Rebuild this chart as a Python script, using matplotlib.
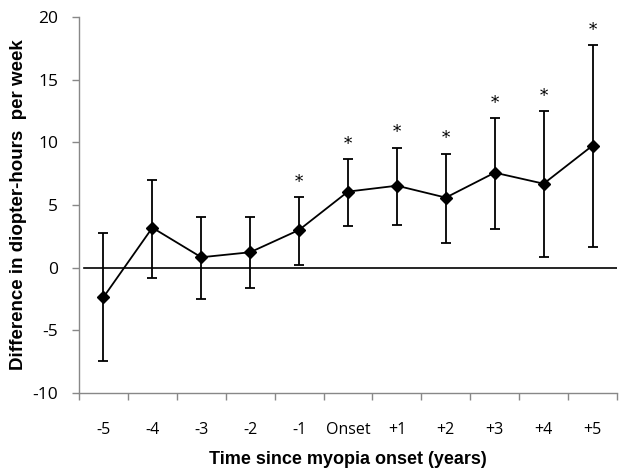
import matplotlib
matplotlib.use("Agg")
import matplotlib.pyplot as plt
import numpy as np

plt.rcParams["axes.unicode_minus"] = False

categories = ["-5", "-4", "-3", "-2", "-1", "Onset", "+1", "+2", "+3", "+4", "+5"]
means = [-2.36, 3.19, 0.83, 1.23, 3.01, 6.07, 6.54, 5.59, 7.58, 6.70, 9.74]
upper = [2.74, 7.00, 4.07, 4.07, 5.64, 8.68, 9.58, 9.10, 11.92, 12.51, 17.77]
lower = [-7.42, -0.85, -2.52, -1.62, 0.19, 3.30, 3.41, 1.95, 3.09, 0.88, 1.68]
significant = [False, False, False, False, True, True, True, True, True, True, True]

fig = plt.figure(figsize=(6.38, 4.71), dpi=100)
ax = fig.add_axes([0.1238, 0.1656, 0.9671 - 0.1238, 0.9639 - 0.1656])

x = np.arange(len(categories))
m = np.array(means)
yerr = [m - np.array(lower), np.array(upper) - m]

ax.axhline(0, color="black", lw=1.2, xmin=0.01, xmax=1.0, zorder=1)
ax.errorbar(x, m, yerr=yerr, fmt="-D", color="black", ms=6, lw=1.3,
            elinewidth=1.3, capsize=3.5, capthick=1.3, zorder=3)

for xi, up, s in zip(x, upper, significant):
    if s:
        ax.text(xi, up + 0.5, "*", ha="center", va="bottom", fontsize=12,
                family="DejaVu Serif")

ax.set_xlim(-0.5, len(categories) - 0.5)
ax.set_ylim(-10, 20)
ax.set_yticks(np.arange(-10, 21, 5))
ax.set_xticks(x)
ax.set_xticklabels(categories)
ax.set_xticks(np.arange(-0.5, len(categories), 1.0), minor=True)
ax.tick_params(axis="x", which="major", length=0, pad=21, labelsize=11.5)
ax.tick_params(axis="x", which="minor", length=5, color="#888888", width=1)
ax.tick_params(axis="y", length=5, color="#888888", width=1, labelsize=12.5, pad=10)
for lbl in ax.get_xticklabels() + ax.get_yticklabels():
    lbl.set_family("Open Sans")

for s in ["top", "right"]:
    ax.spines[s].set_visible(False)
for s in ["left", "bottom"]:
    ax.spines[s].set_color("#888888")
    ax.spines[s].set_linewidth(1)

ax.set_xlabel("Time since myopia onset (years)", fontsize=13, fontweight="bold",
              family="Liberation Sans", labelpad=9)
ax.set_ylabel("Difference in diopter-hours  per week", fontsize=13.5, fontweight="bold",
              family="Liberation Sans", labelpad=4)

fig.savefig("out.png", dpi=100)
